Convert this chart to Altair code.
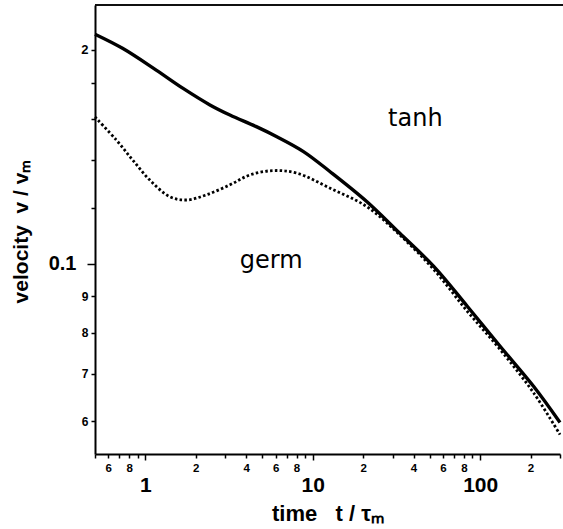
import json
import altair as alt
import pandas as pd

# ---- data ----
tanh_t = [0.5, 0.73, 1.16, 1.68, 2.43, 3.2, 4.6, 6.1, 8.8, 12.7, 21, 33, 53, 84, 132, 209, 300]
tanh_v = [0.2105, 0.2011, 0.1874, 0.1766, 0.1674, 0.1620, 0.1560, 0.1510, 0.1439, 0.1348,
          0.1224, 0.1105, 0.0991, 0.0871, 0.0765, 0.0672, 0.0598]
germ_t = [0.5, 0.67, 0.84, 1.06, 1.4, 1.76, 2.32, 3.2, 4.21, 5.81, 8.02, 12.7, 21, 33, 53, 84, 132, 209, 300]
germ_v = [0.161, 0.1494, 0.1400, 0.1313, 0.1243, 0.1230, 0.1251, 0.1292, 0.1334, 0.1353, 0.1342,
          0.1278, 0.1204, 0.1099, 0.0981, 0.0857, 0.0757, 0.0658, 0.0575]

x_ticks = [0.5, 0.6, 0.7, 0.8, 0.9, 1, 2, 3, 4, 5, 6, 7, 8, 9, 10, 20, 30, 40, 50, 60, 70, 80, 90, 100, 200, 300]
x_labels = ['', '6', '', '8', '', '1', '2', '', '4', '', '6', '', '8', '', '10', '2', '', '4', '', '6', '', '8', '', '100', '2', '']
y_ticks = [0.06, 0.07, 0.08, 0.09, 0.1, 0.12, 0.14, 0.16, 0.18, 0.2]
y_labels = ['6', '7', '8', '9', '0.1', '', '', '', '', '2']

curve_names = ['tanh', 'germ']
name_t = [41.0, 5.65]
name_v = [0.1565, 0.0986]

x_domain = [0.5, 300]
y_domain = [0.0540, 0.2314]

NB = '\u00a0'
x_title = f'time{NB*3}t{NB}/{NB}τₘ'
y_title = f'velocity{NB*2}v{NB}/{NB}vₘ'

# ---- tables ----
tanh_df = pd.DataFrame({'t': tanh_t, 'v': tanh_v})
germ_df = pd.DataFrame({'t': germ_t, 'v': germ_v})
name_df = pd.DataFrame({'name': curve_names, 't': name_t, 'v': name_v})

FONT = 'Liberation Sans'
xscale = alt.Scale(type='log', domain=x_domain, nice=False, zero=False)
yscale = alt.Scale(type='log', domain=y_domain, nice=False, zero=False)

x_major = 'datum.value == 1 || datum.value == 10 || datum.value == 100'
x_axis = alt.Axis(
    values=x_ticks,
    labelExpr=f"{json.dumps(x_labels)}[indexof({json.dumps(x_ticks)}, datum.value)]",
    labelFont=FONT, labelFontWeight='bold', labelColor='black',
    labelFontSize={'condition': {'test': x_major, 'value': 21}, 'value': 11.5},
    labelPadding={'condition': {'test': x_major, 'value': 14}, 'value': 4},
    tickSize={'condition': {'test': x_major, 'value': 6}, 'value': 4},
    tickWidth=1.5, tickColor='black', domainColor='black', domainWidth=2,
    labelOverlap=False, labelFlush=False, labelBound=False, grid=False,
    title=x_title, titleFont=FONT, titleFontWeight='bold', titleFontSize=22,
    titleColor='black', titleBaseline='alphabetic', titleY=66,
)

y_axis = alt.Axis(
    values=y_ticks,
    labelExpr=f"{json.dumps(y_labels)}[indexof({json.dumps(y_ticks)}, datum.value)]",
    labelFont=FONT, labelFontWeight='bold', labelColor='black',
    labelFontSize={'condition': [{'test': 'datum.value == 0.1', 'value': 20},
                                 {'test': 'datum.value == 0.2', 'value': 13}], 'value': 12},
    labelPadding={'condition': {'test': 'datum.value == 0.1', 'value': 11}, 'value': 3},
    tickSize={'condition': {'test': 'datum.value == 0.1', 'value': 8}, 'value': 4},
    tickWidth=1.5, tickColor='black', domainColor='black', domainWidth=2,
    labelOverlap=False, labelFlush=False, labelBound=False, grid=False,
    title=y_title, titleFont=FONT, titleFontWeight='bold', titleFontSize=21,
    titleColor='black', titleAngle=270, titleBaseline='alphabetic', titleAlign='center',
    titleX=-68, titleY=226,
)

X = alt.X('t:Q', scale=xscale, axis=x_axis)
Y = alt.Y('v:Q', scale=yscale, axis=y_axis)

tanh_line = alt.Chart(tanh_df).mark_line(
    color='black', strokeWidth=3.4, interpolate='catmull-rom'
).encode(x=X, y=Y)

germ_line = alt.Chart(germ_df).mark_line(
    color='black', strokeWidth=2.8, strokeDash=[2.5, 2.3], interpolate='catmull-rom'
).encode(x=X, y=Y)

names = alt.Chart(name_df).mark_text(
    font='DejaVu Sans', fontSize=24, color='black', align='center', baseline='alphabetic'
).encode(x=X, y=Y, text='name:N')

top_border = alt.Chart(name_df).mark_rule(color='black', strokeWidth=1.5).encode(
    x=alt.value(0), x2=alt.value(468), y=alt.value(0)
)

chart = alt.layer(tanh_line, germ_line, names, top_border).properties(
    width=465, height=449,
    padding={'left': 95, 'top': 5, 'right': 3, 'bottom': 75},
    autosize=alt.AutoSizeParams(type='none'),
    background='white',
).configure_view(stroke=None)

chart.save('out.html', embed_options={'renderer': 'svg', 'actions': False})
